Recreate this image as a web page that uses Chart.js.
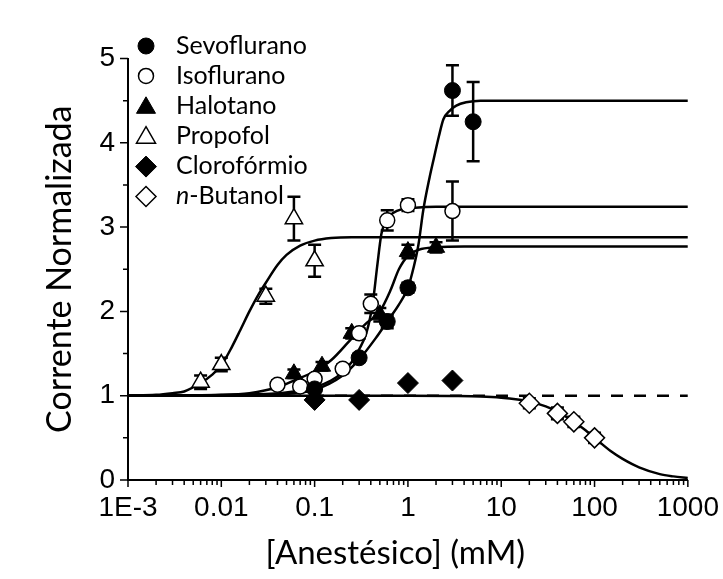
<!DOCTYPE html>
<html>
<head>
<meta charset="utf-8">
<script src="https://cdn.jsdelivr.net/npm/chart.js@4.4.0/dist/chart.umd.min.js"></script>
<style>
  html, body { margin: 0; padding: 0; background: #fff; }
</style>
</head>
<body>
<canvas id="chart" width="723" height="579"></canvas>
<script>
// axis ticks
const xTickValues = [0.001, 0.01, 0.1, 1, 10, 100, 1000];
const xTickLabels = ['1E-3', '0.01', '0.1', '1', '10', '100', '1000'];
const yTickValues = [0, 1, 2, 3, 4, 5];
const yMinorTicks = [0.5, 1.5, 2.5, 3.5, 4.5];

// measured points (x in mM, y = normalized current, err = error bar half height)
const sevoX = [0.1, 0.3, 0.6, 1, 3, 5];
const sevoY = [1.08, 1.45, 1.88, 2.28, 4.62, 4.25];
const sevoErr = [0.04, 0.05, 0.08, 0.06, 0.30, 0.47];

const isoX = [0.04, 0.07, 0.1, 0.2, 0.3, 0.4, 0.6, 1, 3];
const isoY = [1.13, 1.11, 1.20, 1.32, 1.74, 2.09, 3.08, 3.26, 3.19];
const isoErr = [0.05, 0.05, 0.05, 0.05, 0.06, 0.11, 0.12, 0.07, 0.35];

const haloX = [0.06, 0.12, 0.25, 0.5, 1, 2];
const haloY = [1.26, 1.35, 1.74, 1.96, 2.71, 2.76];
const haloErr = [0.05, 0.05, 0.06, 0.08, 0.08, 0.06];

const propX = [0.006, 0.01, 0.03, 0.06, 0.1];
const propY = [1.16, 1.37, 2.18, 3.10, 2.60];
const propErr = [0.08, 0.08, 0.09, 0.26, 0.19];

const cloroX = [0.1, 0.3, 1, 3];
const cloroY = [0.95, 0.95, 1.15, 1.18];

const butX = [20, 40, 60, 100];
const butY = [0.91, 0.79, 0.69, 0.50];
const butErr = [0.06, 0.07, 0.06, 0.06];

// fitted curves
const propFitX = [0.001, 0.002, 0.003, 0.004, 0.006, 0.008, 0.01, 0.013, 0.016, 0.02, 0.025, 0.03, 0.04, 0.05, 0.07, 0.1, 0.15, 0.25, 0.5, 1000];
const propFitY = [1.00, 1.01, 1.03, 1.05, 1.15, 1.25, 1.36, 1.58, 1.78, 2.00, 2.20, 2.34, 2.55, 2.67, 2.78, 2.84, 2.87, 2.88, 2.88, 2.88];

const haloFitX = [0.001, 0.01, 0.02, 0.04, 0.06, 0.1, 0.15, 0.25, 0.35, 0.5, 0.65, 0.8, 1.0, 1.3, 2, 4, 1000];
const haloFitY = [1.00, 1.01, 1.03, 1.10, 1.18, 1.29, 1.42, 1.68, 1.85, 2.00, 2.25, 2.50, 2.66, 2.73, 2.76, 2.77, 2.77];

const isoFitX = [0.001, 0.03, 0.06, 0.1, 0.15, 0.2, 0.25, 0.3, 0.36, 0.42, 0.47, 0.52, 0.6, 0.7, 0.85, 1.2, 2, 1000];
const isoFitY = [1.00, 1.02, 1.05, 1.10, 1.18, 1.28, 1.40, 1.55, 1.75, 2.10, 2.55, 2.92, 3.10, 3.17, 3.21, 3.23, 3.24, 3.24];

const sevoFitX = [0.001, 0.03, 0.06, 0.1, 0.2, 0.3, 0.45, 0.6, 0.8, 1.0, 1.15, 1.3, 1.46, 1.7, 1.9, 2.15, 2.4, 2.8, 3.3, 4.2, 6, 1000];
const sevoFitY = [1.00, 1.01, 1.03, 1.07, 1.24, 1.43, 1.68, 1.88, 2.08, 2.28, 2.52, 2.80, 3.20, 3.58, 3.82, 4.08, 4.28, 4.38, 4.44, 4.48, 4.50, 4.50];

const butFitX = [0.001, 1, 3, 6, 10, 15, 20, 30, 40, 60, 80, 100, 150, 200, 300, 500, 700, 1000];
const butFitY = [1.00, 1.00, 0.996, 0.99, 0.976, 0.954, 0.93, 0.873, 0.81, 0.69, 0.59, 0.50, 0.34, 0.25, 0.15, 0.07, 0.043, 0.025];

const cloroFitX = [0.001, 1000];
const cloroFitY = [1, 1];

const legendLabels = ['Sevoflurano', 'Isoflurano', 'Halotano', 'Propofol', 'Clorofórmio', 'n-Butanol'];

function pts(xs, ys) {
    return xs.map((x, i) => ({ x: x, y: ys[i] }));
}

function markers(label, xs, ys, errs, style, radius, filled) {
    return {
        label: label,
        data: pts(xs, ys),
        errors: errs,
        showLine: false,
        order: 0,
        pointStyle: style,
        pointRadius: radius,
        pointHoverRadius: radius,
        pointBackgroundColor: filled ? '#000' : '#fff',
        pointBorderColor: '#000',
        pointBorderWidth: filled ? 1 : 1.5
    };
}

function fit(xs, ys, dashed) {
    return {
        data: pts(xs, ys),
        order: 5,
        borderColor: '#000',
        borderWidth: 2.5,
        borderDash: dashed ? [12, 11] : [],
        pointRadius: 0,
        fill: false,
        cubicInterpolationMode: 'monotone'
    };
}

const markerSets = [
    markers(legendLabels[0], sevoX, sevoY, sevoErr, 'circle', 8, true),
    markers(legendLabels[1], isoX, isoY, isoErr, 'circle', 7.5, false),
    markers(legendLabels[2], haloX, haloY, haloErr, 'triangle', 10, true),
    markers(legendLabels[3], propX, propY, propErr, 'triangle', 10, false),
    markers(legendLabels[4], cloroX, cloroY, null, 'rectRot', 10.5, true),
    markers(legendLabels[5], butX, butY, butErr, 'rectRot', 10, false)
];

// error bars drawn just before each marker set
const errorBars = {
    id: 'errorBars',
    beforeDatasetDraw(chart, args) {
        const ds = chart.data.datasets[args.index];
        if (!ds.errors) return;
        const { ctx, scales: { x, y } } = chart;
        ctx.save();
        ctx.strokeStyle = '#000';
        ctx.lineWidth = 2.5;
        ds.data.forEach((p, i) => {
            const e = ds.errors[i];
            if (!e) return;
            const px = x.getPixelForValue(p.x);
            const t = y.getPixelForValue(p.y + e);
            const b = y.getPixelForValue(p.y - e);
            ctx.beginPath();
            ctx.moveTo(px, t); ctx.lineTo(px, b);
            ctx.moveTo(px - 6.5, t); ctx.lineTo(px + 6.5, t);
            ctx.moveTo(px - 6.5, b); ctx.lineTo(px + 6.5, b);
            ctx.stroke();
        });
        ctx.restore();
    }
};

// outward tick marks, long for labelled ticks, short for minor ones
const tickMarks = {
    id: 'tickMarks',
    afterDraw(chart) {
        const { ctx, chartArea: a, scales: { x, y } } = chart;
        ctx.save();
        ctx.strokeStyle = '#000';
        ctx.lineWidth = 1.5;
        ctx.beginPath();
        xTickValues.forEach((d, i) => {
            let px = x.getPixelForValue(d);
            ctx.moveTo(px, a.bottom); ctx.lineTo(px, a.bottom + 7);
            if (i === xTickValues.length - 1) return;
            for (let k = 2; k <= 9; k++) {
                px = x.getPixelForValue(k * d);
                ctx.moveTo(px, a.bottom); ctx.lineTo(px, a.bottom + 5);
            }
        });
        yTickValues.forEach(v => {
            const py = y.getPixelForValue(v);
            ctx.moveTo(a.left, py); ctx.lineTo(a.left - 8, py);
        });
        yMinorTicks.forEach(v => {
            const py = y.getPixelForValue(v);
            ctx.moveTo(a.left, py); ctx.lineTo(a.left - 5, py);
        });
        ctx.stroke();
        ctx.restore();
    }
};

// legend in the upper left, partly above the plot
const sideLegend = {
    id: 'sideLegend',
    afterDraw(chart) {
        const ctx = chart.ctx;
        const shift = { circle: 8, triangle: 6, rectRot: 7 };
        ctx.save();
        markerSets.forEach((ds, i) => {
            const base = 54 + 29.9 * i;
            const style = ds.pointStyle;
            const r = style === 'triangle' ? 11 : ds.pointRadius;
            ctx.fillStyle = ds.pointBackgroundColor;
            ctx.strokeStyle = '#000';
            ctx.lineWidth = ds.pointBorderWidth;
            Chart.helpers.drawPoint(ctx, { pointStyle: style, radius: r, borderWidth: ds.pointBorderWidth, rotation: 0 }, 146, base - shift[style]);
            ctx.fillStyle = '#000';
            ctx.textBaseline = 'alphabetic';
            ctx.textAlign = 'left';
            let tx = 176;
            let text = ds.label;
            if (text.startsWith('n-')) {
                ctx.font = 'italic 25px Lato';
                ctx.fillText('n', tx, base);
                tx += ctx.measureText('n').width;
                text = text.slice(1);
            }
            ctx.font = '25px Lato';
            ctx.fillText(text, tx, base);
        });
        ctx.restore();
    }
};

Chart.defaults.color = '#000';

new Chart(document.getElementById('chart'), {
    type: 'line',
    data: {
        datasets: markerSets.concat([
            fit(sevoFitX, sevoFitY),
            fit(isoFitX, isoFitY),
            fit(haloFitX, haloFitY),
            fit(propFitX, propFitY),
            fit(cloroFitX, cloroFitY, true),
            fit(butFitX, butFitY)
        ])
    },
    options: {
        responsive: false,
        animation: false,
        devicePixelRatio: 1,
        layout: { padding: { left: 0, top: 58.5, right: 35, bottom: 0 } },
        plugins: { legend: { display: false }, tooltip: { enabled: false } },
        scales: {
            x: {
                type: 'logarithmic',
                min: 0.001,
                max: 1000,
                afterBuildTicks: s => { s.ticks = xTickValues.map(v => ({ value: v })); },
                afterFit: s => { s.height = 99; },
                grid: { display: false, tickLength: 7 },
                border: { display: true, color: '#000', width: 2 },
                ticks: {
                    autoSkip: false,
                    maxRotation: 0,
                    padding: 4,
                    font: { family: 'Liberation Sans', size: 28 },
                    callback: (v, i) => xTickLabels[i]
                },
                title: {
                    display: true,
                    text: '[Anestésico] (mM)   ',
                    font: { family: 'Lato', size: 33 },
                    padding: { top: 0, bottom: 6 }
                }
            },
            y: {
                min: 0,
                max: 5,
                afterBuildTicks: s => { s.ticks = yTickValues.map(v => ({ value: v })); },
                afterFit: s => { s.width = 128; },
                grid: { display: false, tickLength: 8 },
                border: { display: true, color: '#000', width: 2 },
                ticks: {
                    autoSkip: false,
                    padding: 5,
                    font: { family: 'Liberation Sans', size: 28 },
                    callback: v => String(v)
                },
                title: {
                    display: true,
                    text: 'Corrente Normalizada',
                    font: { family: 'Lato', size: 34 },
                    padding: { top: 40, bottom: 0 }
                }
            }
        }
    },
    plugins: [errorBars, tickMarks, sideLegend]
});
</script>
</body>
</html>
